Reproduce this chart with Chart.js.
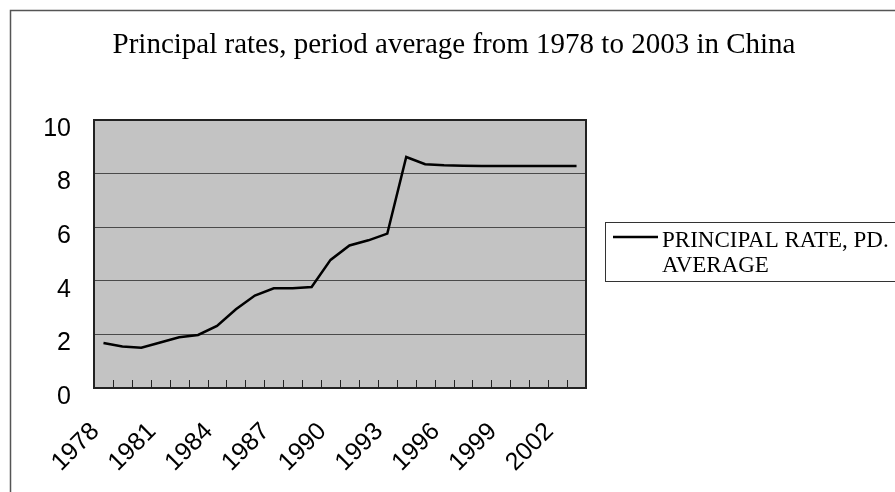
<!DOCTYPE html>
<html>
<head>
<meta charset="utf-8">
<script src="https://cdn.jsdelivr.net/npm/chart.js@4.4.1/dist/chart.umd.min.js"></script>
<style>
  html, body { margin: 0; padding: 0; background: #fff; }
  #wrap { width: 895px; height: 492px; }
</style>
</head>
<body>
<div id="wrap"><canvas id="chart" width="895" height="492"></canvas></div>
<script>
const years = [
  '1978', '1979', '1980', '1981', '1982', '1983', '1984', '1985', '1986',
  '1987', '1988', '1989', '1990', '1991', '1992', '1993', '1994', '1995',
  '1996', '1997', '1998', '1999', '2000', '2001', '2002', '2003'
];
const principalRate = [
  1.68, 1.55, 1.50, 1.70, 1.89, 1.98, 2.32, 2.94, 3.45,
  3.72, 3.72, 3.77, 4.78, 5.32, 5.51, 5.76, 8.62, 8.35,
  8.31, 8.29, 8.28, 8.28, 8.28, 8.28, 8.28, 8.28
];
const seriesLabel = ['PRINCIPAL RATE, PD.', 'AVERAGE'];
const yTicks = [0, 2, 4, 6, 8, 10];
const titleText = 'Principal rates, period average from 1978 to 2003 in China';

const serif = "'Liberation Serif', 'Times New Roman', serif";
const sans = "'Liberation Sans', Arial, sans-serif";

// frame, title, plot background, plot border, inside tick marks
const framePlugin = {
  id: 'frame',
  beforeDraw(chart) {
    const { ctx, chartArea: a } = chart;
    ctx.save();
    ctx.strokeStyle = '#555';
    ctx.lineWidth = 1.5;
    ctx.strokeRect(10.5, 10.5, 900, 500);
    ctx.fillStyle = '#000';
    ctx.font = `29px ${serif}`;
    ctx.textAlign = 'center';
    ctx.textBaseline = 'alphabetic';
    ctx.fillText(titleText, 454, 53);
    ctx.fillStyle = '#c3c3c3';
    ctx.fillRect(a.left, a.top, a.right - a.left, a.bottom - a.top);
    ctx.restore();
  },
  afterDatasetsDraw(chart) {
    const { ctx, chartArea: a } = chart;
    const x = chart.scales.x;
    ctx.save();
    ctx.strokeStyle = '#222';
    ctx.lineWidth = 1;
    for (let i = 1; i < years.length; i++) {
      const px = Math.round((x.getPixelForValue(i - 1) + x.getPixelForValue(i)) / 2) + 0.5;
      ctx.beginPath();
      ctx.moveTo(px, a.bottom);
      ctx.lineTo(px, a.bottom - 8);
      ctx.stroke();
    }
    ctx.lineWidth = 2;
    ctx.strokeStyle = '#222';
    ctx.strokeRect(a.left, a.top, a.right - a.left, a.bottom - a.top);
    ctx.restore();
  }
};

// boxed legend with a wrapped label
const legendPlugin = {
  id: 'boxLegend',
  afterDraw(chart) {
    const { ctx } = chart;
    const ds = chart.data.datasets[0];
    ctx.save();
    ctx.strokeStyle = '#333';
    ctx.lineWidth = 1;
    ctx.strokeRect(605.5, 222.5, 300, 59);
    ctx.strokeStyle = ds.borderColor;
    ctx.lineWidth = ds.borderWidth;
    ctx.beginPath();
    ctx.moveTo(613, 237);
    ctx.lineTo(658, 237);
    ctx.stroke();
    ctx.fillStyle = '#000';
    ctx.font = `23px ${serif}`;
    ctx.textBaseline = 'alphabetic';
    ctx.fillText(seriesLabel[0], 662, 247);
    ctx.fillText(seriesLabel[1], 662, 272);
    ctx.restore();
  }
};

new Chart(document.getElementById('chart'), {
  type: 'line',
  data: {
    labels: years,
    datasets: [{
      label: seriesLabel.join(' '),
      data: principalRate,
      borderColor: '#000',
      borderWidth: 2.5,
      pointRadius: 0,
      tension: 0,
      fill: false
    }]
  },
  options: {
    responsive: false,
    animation: false,
    layout: { padding: { left: 0, right: 309, top: 120, bottom: 0 } },
    plugins: {
      legend: { display: false },
      tooltip: { enabled: false },
      title: { display: false }
    },
    scales: {
      x: {
        offset: true,
        grid: { display: false },
        border: { display: false },
        ticks: {
          autoSkip: false,
          maxRotation: 45,
          minRotation: 45,
          padding: 21,
          labelOffset: -8,
          color: '#000',
          font: { family: sans, size: 25 },
          callback(value, index) {
            return index % 3 === 0 ? this.getLabelForValue(value) : '';
          }
        },
        afterFit(scale) { scale.height = 104; }
      },
      y: {
        min: 0,
        max: 10,
        afterBuildTicks(scale) { scale.ticks = yTicks.map(v => ({ value: v })); },
        grid: {
          color: (c) => (c.tick.value === 0 || c.tick.value === 10) ? 'rgba(0,0,0,0)' : '#4a4a4a',
          lineWidth: 1,
          drawTicks: false
        },
        border: { display: false },
        ticks: {
          padding: 23,
          labelOffset: 9,
          color: '#000',
          font: { family: sans, size: 25 }
        },
        afterFit(scale) { scale.width = 94; }
      }
    }
  },
  plugins: [framePlugin, legendPlugin]
});
</script>
</body>
</html>
